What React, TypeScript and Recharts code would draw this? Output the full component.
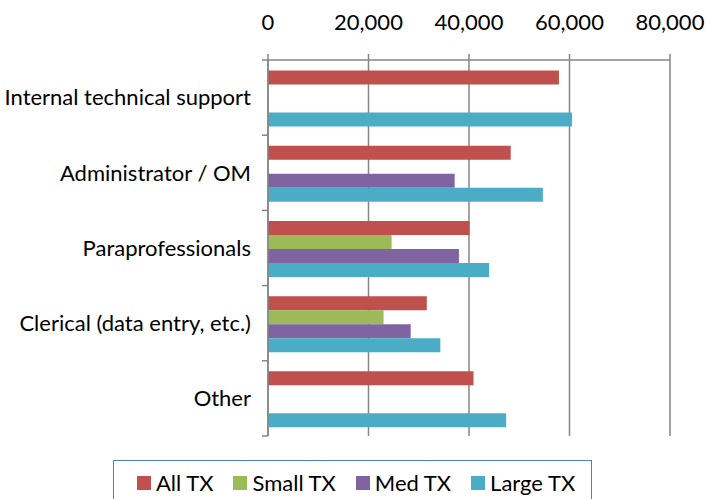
import { Bar, BarChart, CartesianGrid, XAxis, YAxis } from 'recharts';

const categories = [
  'Internal technical support',
  'Administrator / OM',
  'Paraprofessionals',
  'Clerical (data entry, etc.)',
  'Other',
];

const allTx = [57900, 48300, 40100, 31600, 40900];
const smallTx = [null, null, 24600, 23000, null];
const medTx = [null, 37150, 38000, 28400, null];
const largeTx = [60500, 54700, 44000, 34300, 47400];

const xTicks = [0, 20000, 40000, 60000, 80000];

const series = [
  { key: 'all', label: 'All TX', color: '#C0504D', values: allTx },
  { key: 'small', label: 'Small TX', color: '#9BBB59', values: smallTx },
  { key: 'med', label: 'Med TX', color: '#8064A2', values: medTx },
  { key: 'large', label: 'Large TX', color: '#4BACC6', values: largeTx },
];

const data = categories.map((name, i) => {
  const row: Record<string, string | number | null> = { name };
  series.forEach((s) => {
    row[s.key] = s.values[i];
  });
  return row;
});

const WIDTH = 706;
const HEIGHT = 499;
const MARGIN = { top: 20, right: 36, bottom: 63, left: 0 };
const X_AXIS_HEIGHT = 40;
const Y_AXIS_WIDTH = 268;
const AXIS_COLOR = '#868686';
const FONT = 'Lato, "Open Sans", sans-serif';
const FONT_SIZE = 22;

const plotHeight = HEIGHT - MARGIN.top - X_AXIS_HEIGHT - MARGIN.bottom;
const band = plotHeight / categories.length;

type TickProps = {
  x: number;
  y: number;
  index: number;
  payload: { value: string };
};

function CategoryTick({ x, y, index, payload }: TickProps) {
  const axisX = x + 17;
  return (
    <g>
      <line x1={axisX - 6} x2={axisX} y1={y - band / 2} y2={y - band / 2} stroke={AXIS_COLOR} strokeWidth={1.5} />
      {index === categories.length - 1 && (
        <line x1={axisX - 6} x2={axisX} y1={y + band / 2} y2={y + band / 2} stroke={AXIS_COLOR} strokeWidth={1.5} />
      )}
      <text x={x} y={y} dy="0.35em" textAnchor="end" fill="#000" fontSize={FONT_SIZE} fontFamily={FONT}>
        {payload.value}
      </text>
    </g>
  );
}

export default function App() {
  return (
    <div style={{ position: 'absolute', left: 0, top: 0, width: WIDTH, height: HEIGHT, background: '#fff', fontFamily: FONT }}>
      <BarChart
        width={WIDTH}
        height={HEIGHT}
        data={data}
        layout="vertical"
        margin={MARGIN}
        barCategoryGap="14%"
        barGap={0}
      >
        <CartesianGrid horizontal={false} stroke={AXIS_COLOR} strokeWidth={1.5} />
        <XAxis
          type="number"
          orientation="top"
          domain={[0, 80000]}
          ticks={xTicks}
          height={X_AXIS_HEIGHT}
          tickSize={6}
          tickMargin={24}
          interval={0}
          stroke={AXIS_COLOR}
          strokeWidth={1.5}
          tick={{ fill: '#000', fontSize: FONT_SIZE, fontFamily: FONT }}
          tickFormatter={(v: number) => v.toLocaleString('en-US')}
        />
        <YAxis
          type="category"
          dataKey="name"
          width={Y_AXIS_WIDTH}
          tickSize={6}
          tickMargin={11}
          tickLine={false}
          stroke={AXIS_COLOR}
          strokeWidth={1.5}
          interval={0}
          tick={(props: TickProps) => <CategoryTick {...props} />}
        />
        {series.map((s) => (
          <Bar key={s.key} dataKey={s.key} name={s.label} fill={s.color} isAnimationActive={false} />
        ))}
      </BarChart>
      <div
        style={{
          position: 'absolute',
          left: 113,
          top: 460,
          width: 479,
          height: 40,
          border: '1.5px solid #4F81BD',
          boxSizing: 'border-box',
          display: 'flex',
          alignItems: 'flex-start',
          paddingLeft: 23,
          paddingTop: 9,
          gap: 20,
          whiteSpace: 'nowrap',
        }}
      >
        {series.map((s) => (
          <div key={s.key} style={{ display: 'flex', alignItems: 'center', gap: 5, flexShrink: 0 }}>
            <span style={{ width: 14, height: 14, background: s.color, display: 'inline-block' }} />
            <span style={{ fontSize: FONT_SIZE, lineHeight: '26px', color: '#000' }}>{s.label}</span>
          </div>
        ))}
      </div>
    </div>
  );
}
